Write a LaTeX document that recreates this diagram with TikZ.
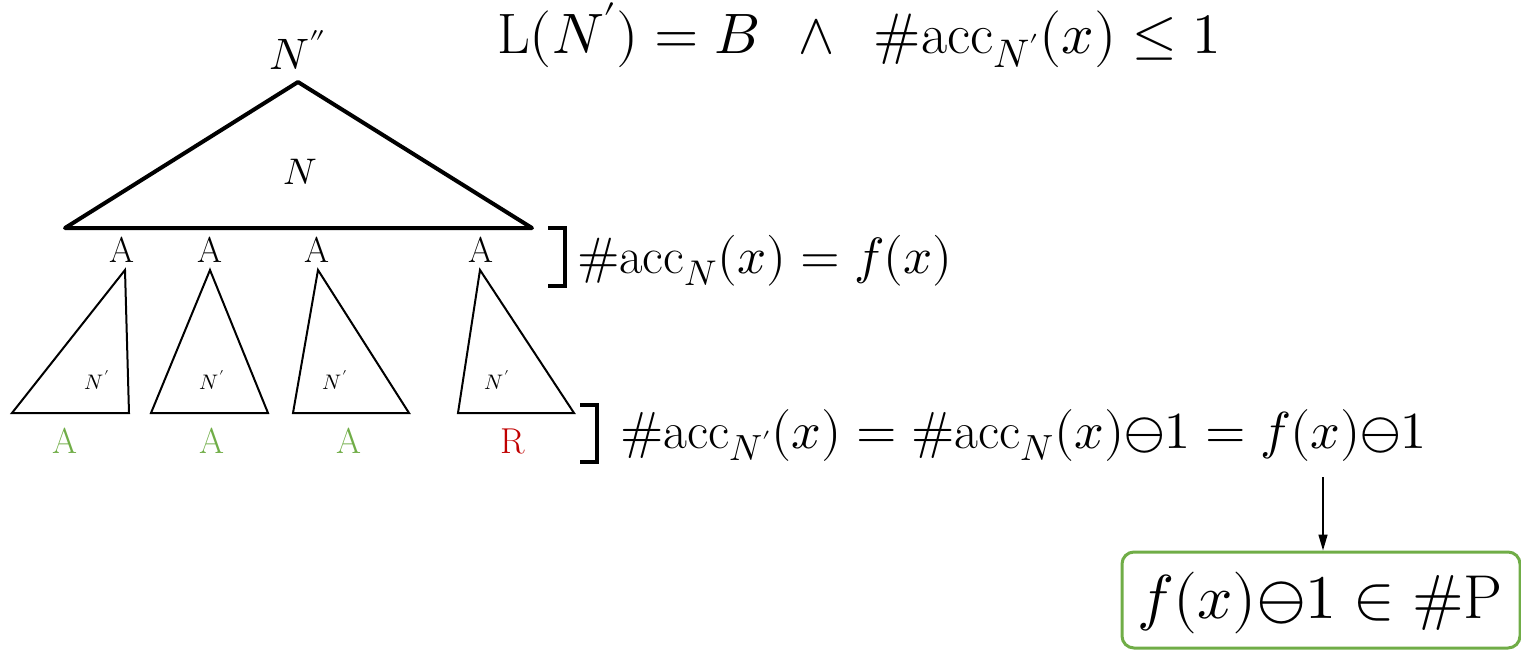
\documentclass[tikz,border=0pt]{standalone}
\usepackage{unicode-math}
\setmathfont{Latin Modern Math}
\usetikzlibrary{arrows.meta}
\definecolor{accgreen}{HTML}{70AD47}
\definecolor{rejred}{HTML}{C00000}
\tikzset{
  txt/.style={inner sep=0pt, outer sep=0pt},
  bigtri/.style={line width=4pt, line join=round},
  subtri/.style={line width=2pt, line join=miter},
  brk/.style={line width=4pt},
  alabel/.style={txt, font=\fontsize{36}{40}\selectfont},
  nplabel/.style={txt, font=\fontsize{21}{24}\selectfont},
  eqn/.style={txt, anchor=base west, font=\fontsize{52}{58}\selectfont},
  resbox/.style={draw=accgreen, line width=3pt, rounded corners=12pt, minimum width=398pt, minimum height=96pt, inner sep=0pt},
}
\begin{document}
\begin{tikzpicture}[x=1pt,y=-1pt]
\useasboundingbox (0,0) rectangle (1521,651);
% top formula
\node[eqn, font=\fontsize{57}{62}\selectfont] (head) at (497,53)
  {$\mathrm{L}(N')=B\;\,\wedge\;\,\#\mathrm{acc}_{N'}(x)\le 1$};
% big triangle N
\node[txt, font=\fontsize{44}{48}\selectfont] (npp) at (298,50) {$N''$};
\draw[bigtri] (298,82) -- (532,228) -- (65,228) -- cycle;
\node[txt, font=\fontsize{37}{40}\selectfont] (nbig) at (300,172) {$N$};
% A labels under big triangle
\node[alabel] (a1) at (122,250) {A};
\node[alabel] (a2) at (210,250) {A};
\node[alabel] (a3) at (317,250) {A};
\node[alabel] (a4) at (481,250) {A};
% sub triangles
\draw[subtri] (125,270) -- (129,413) -- (12,413) -- cycle;
\draw[subtri] (210,270) -- (268,413) -- (151,413) -- cycle;
\draw[subtri] (318,270) -- (409,413) -- (293,413) -- cycle;
\draw[subtri] (480,270) -- (574,413) -- (458,413) -- cycle;
\node[nplabel] (np1) at (97,380) {$N'$};
\node[nplabel] (np2) at (212,380) {$N'$};
\node[nplabel] (np3) at (335,380) {$N'$};
\node[nplabel] (np4) at (497,380) {$N'$};
% leaf outcomes
\node[alabel, text=accgreen] (l1) at (65,441) {A};
\node[alabel, text=accgreen] (l2) at (212,441) {A};
\node[alabel, text=accgreen] (l3) at (349,441) {A};
\node[alabel, text=rejred] (l4) at (513,441) {R};
% brackets
\draw[brk] (548,228) -- (565,228) -- (565,286) -- (548,286);
\draw[brk] (580,405) -- (597,405) -- (597,462) -- (580,462);
% equations
\node[eqn, font=\fontsize{51}{56}\selectfont] (eq1) at (577,273) {$\#\mathrm{acc}_{N}(x)=f(x)$};
\node[eqn] (eq2) at (620,448)
  {$\#\mathrm{acc}_{N'}(x)=\#\mathrm{acc}_{N}(x){\ominus}1=f(x){\ominus}1$};
% result box
\node[resbox] (box) at (1321,600) {};
\node[txt, anchor=base, font=\fontsize{62}{68}\selectfont] (res) at (1320,618)
  {$f(x){\ominus}1\in\#\mathrm{P}$};
\coordinate (as) at (1323,477);
\draw[line width=1.5pt, -{Triangle[width=9pt,length=16pt]}] (as) -- (as |- box.north);
\end{tikzpicture}
\end{document}
